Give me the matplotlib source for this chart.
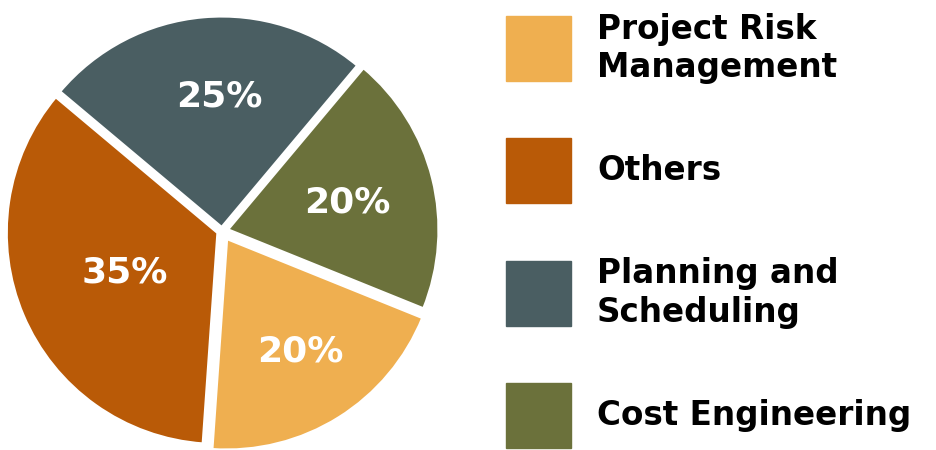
import matplotlib
matplotlib.use("Agg")
import numpy as np
import matplotlib.pyplot as plt
from matplotlib.patches import Rectangle

# slices in drawing order (counter-clockwise from the bottom)
names = ["Project Risk\nManagement", "Cost Engineering", "Planning and\nScheduling", "Others"]
shares = [20, 20, 25, 35]
colors = ["#EFAF50", "#6B713B", "#4A5E62", "#B95A07"]
explode = [0.04, 0.025, 0.015, 0.02]
label_dist = [0.64, 0.58, 0.62, 0.48]
label_turn = [1, -1, -4, 0]   # degrees, nudges label off the slice middle

# legend order
legend_order = [0, 3, 2, 1]

plt.rcParams['font.family'] = ['DejaVu Sans']

W, H = 937, 450
fig = plt.figure(figsize=(W / 100, H / 100), dpi=100)

# pie axes, square in pixels
cx, cy, r = 222, 450 - 231, 212
lim = 1.06
side = 2 * lim * r
ax = fig.add_axes([(cx - side / 2) / W, (cy - side / 2) / H, side / W, side / H])
wedges, texts, autotexts = ax.pie(shares, colors=colors, explode=explode, startangle=-94,
                                  counterclock=True, autopct='%d%%', pctdistance=0.6,
                                  wedgeprops=dict(edgecolor='white', linewidth=2.5),
                                  textprops=dict(color='white', fontsize=26, fontweight='bold'))
# per-slice label distance
for w, t, d, e, a in zip(wedges, autotexts, label_dist, explode, label_turn):
    ang = np.deg2rad((w.theta1 + w.theta2) / 2 + a)
    t.set_position(((d + e) * np.cos(ang), (d + e) * np.sin(ang)))
ax.set_xlim(-lim, lim)
ax.set_ylim(-lim, lim)
ax.set_aspect('equal')
ax.axis('off')

# legend drawn in pixel coordinates
lax = fig.add_axes([0, 0, 1, 1])
lax.set_xlim(0, W)
lax.set_ylim(H, 0)
lax.axis('off')
for k, i in enumerate(legend_order):
    top = 16 + k * 122.3
    lax.add_patch(Rectangle((506, top), 65, 65, color=colors[i]))
    lax.text(597, top + 32.5, names[i], fontsize=23.5, fontweight='bold', color='black',
             va='center', ha='left', linespacing=1.2)

fig.savefig("out.png", dpi=100)
